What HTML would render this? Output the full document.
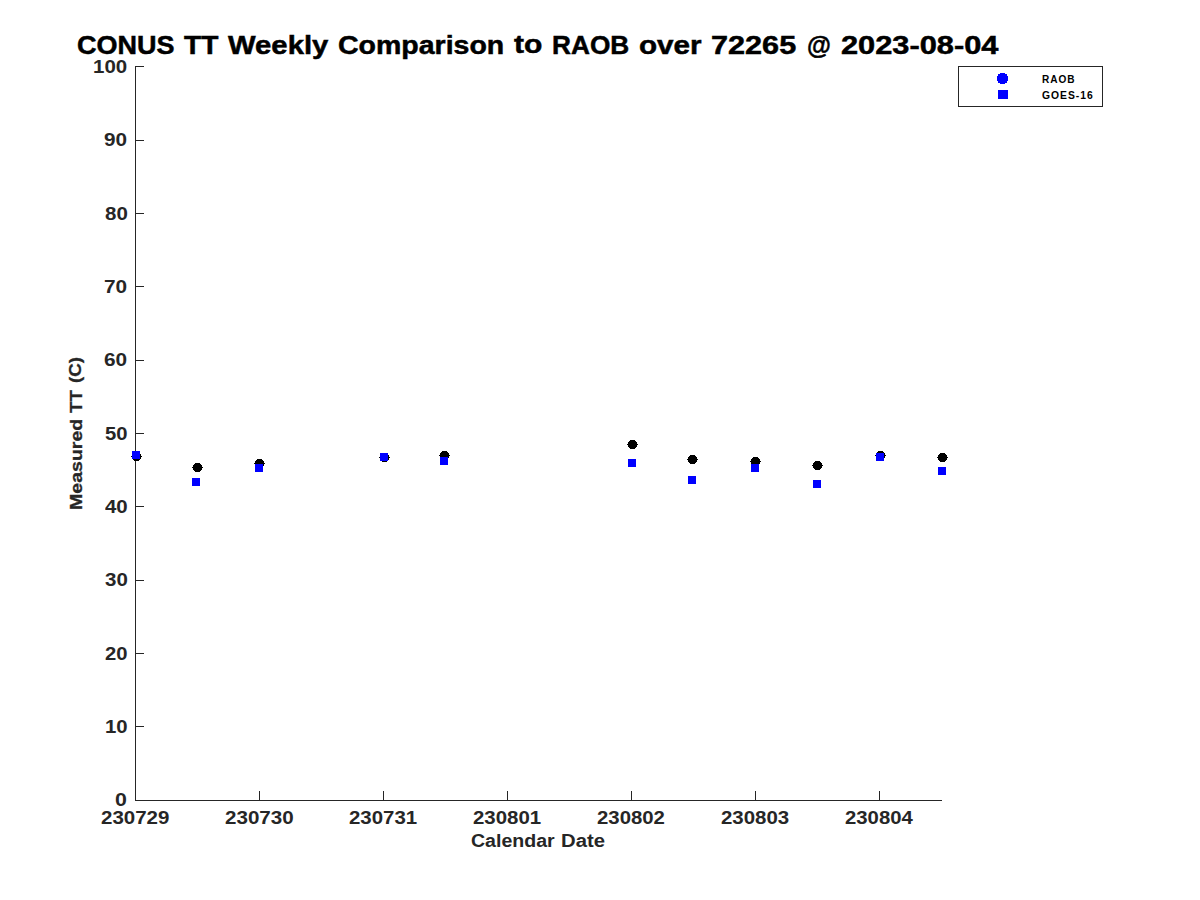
<!DOCTYPE html>
<html><head><meta charset="utf-8"><title>CONUS TT Weekly Comparison</title><style>
html,body{margin:0;padding:0;background:#fff;}
body{width:1200px;height:900px;position:relative;overflow:hidden;}
svg{position:absolute;left:0;top:0;}
.t{position:absolute;font-family:"Liberation Sans", sans-serif;font-weight:bold;white-space:nowrap;line-height:1;transform-origin:0 0;}
</style></head><body>
<svg width="1200" height="900" viewBox="0 0 1200 900" shape-rendering="crispEdges">
<rect x="135" y="66" width="1" height="735" fill="#262626"/>
<rect x="135" y="800" width="807" height="1" fill="#262626"/>
<rect x="135" y="800" width="9" height="1" fill="#262626"/>
<rect x="135" y="726" width="9" height="1" fill="#262626"/>
<rect x="135" y="653" width="9" height="1" fill="#262626"/>
<rect x="135" y="580" width="9" height="1" fill="#262626"/>
<rect x="135" y="506" width="9" height="1" fill="#262626"/>
<rect x="135" y="433" width="9" height="1" fill="#262626"/>
<rect x="135" y="360" width="9" height="1" fill="#262626"/>
<rect x="135" y="286" width="9" height="1" fill="#262626"/>
<rect x="135" y="213" width="9" height="1" fill="#262626"/>
<rect x="135" y="140" width="9" height="1" fill="#262626"/>
<rect x="135" y="66" width="9" height="1" fill="#262626"/>
<rect x="259" y="791" width="1" height="10" fill="#262626"/>
<rect x="383" y="791" width="1" height="10" fill="#262626"/>
<rect x="507" y="791" width="1" height="10" fill="#262626"/>
<rect x="631" y="791" width="1" height="10" fill="#262626"/>
<rect x="755" y="791" width="1" height="10" fill="#262626"/>
<rect x="879" y="791" width="1" height="10" fill="#262626"/>
<rect x="958" y="66" width="145" height="1" fill="#262626"/>
<rect x="958" y="106" width="145" height="1" fill="#262626"/>
<rect x="958" y="66" width="1" height="41" fill="#262626"/>
<rect x="1102" y="66" width="1" height="41" fill="#262626"/>
<path transform="translate(131,452)" d="M3,0H8V1H9V2H10V4H11V5H10V7H9V8H8V9H3V8H2V7H1V5H0V4H1V2H2V1H3Z" fill="#000"/>
<path transform="translate(192,463)" d="M3,0H8V1H9V2H10V4H11V5H10V7H9V8H8V9H3V8H2V7H1V5H0V4H1V2H2V1H3Z" fill="#000"/>
<path transform="translate(254,459)" d="M3,0H8V1H9V2H10V4H11V5H10V7H9V8H8V9H3V8H2V7H1V5H0V4H1V2H2V1H3Z" fill="#000"/>
<path transform="translate(379,453)" d="M3,0H8V1H9V2H10V4H11V5H10V7H9V8H8V9H3V8H2V7H1V5H0V4H1V2H2V1H3Z" fill="#000"/>
<path transform="translate(439,451)" d="M3,0H8V1H9V2H10V4H11V5H10V7H9V8H8V9H3V8H2V7H1V5H0V4H1V2H2V1H3Z" fill="#000"/>
<path transform="translate(627,440)" d="M3,0H8V1H9V2H10V4H11V5H10V7H9V8H8V9H3V8H2V7H1V5H0V4H1V2H2V1H3Z" fill="#000"/>
<path transform="translate(687,455)" d="M3,0H8V1H9V2H10V4H11V5H10V7H9V8H8V9H3V8H2V7H1V5H0V4H1V2H2V1H3Z" fill="#000"/>
<path transform="translate(750,457)" d="M3,0H8V1H9V2H10V4H11V5H10V7H9V8H8V9H3V8H2V7H1V5H0V4H1V2H2V1H3Z" fill="#000"/>
<path transform="translate(812,461)" d="M3,0H8V1H9V2H10V4H11V5H10V7H9V8H8V9H3V8H2V7H1V5H0V4H1V2H2V1H3Z" fill="#000"/>
<path transform="translate(875,451)" d="M3,0H8V1H9V2H10V4H11V5H10V7H9V8H8V9H3V8H2V7H1V5H0V4H1V2H2V1H3Z" fill="#000"/>
<path transform="translate(937,453)" d="M3,0H8V1H9V2H10V4H11V5H10V7H9V8H8V9H3V8H2V7H1V5H0V4H1V2H2V1H3Z" fill="#000"/>
<rect x="132" y="451" width="8" height="8" fill="#0000ff"/>
<rect x="192" y="478" width="8" height="8" fill="#0000ff"/>
<rect x="255" y="464" width="8" height="8" fill="#0000ff"/>
<rect x="380" y="453" width="8" height="8" fill="#0000ff"/>
<rect x="440" y="457" width="8" height="8" fill="#0000ff"/>
<rect x="628" y="459" width="8" height="8" fill="#0000ff"/>
<rect x="688" y="476" width="8" height="8" fill="#0000ff"/>
<rect x="751" y="464" width="8" height="8" fill="#0000ff"/>
<rect x="813" y="480" width="8" height="8" fill="#0000ff"/>
<rect x="876" y="453" width="8" height="8" fill="#0000ff"/>
<rect x="938" y="467" width="8" height="8" fill="#0000ff"/>
<path transform="translate(997,73)" d="M3,0H8V1H10V3H11V8H10V10H8V11H3V10H1V8H0V3H1V1H3Z" fill="#0000ff"/>
<rect x="998" y="90" width="10" height="9" fill="#0000ff"/>
</svg>
<div class="t" style="left:76.54px;top:31.55px;font-size:26.5px;color:#000;-webkit-text-stroke:0.5px #000;transform:scaleX(1.0186)">CONUS</div>
<div class="t" style="left:183.80px;top:31.55px;font-size:26.5px;color:#000;-webkit-text-stroke:0.5px #000;transform:scaleX(1.0620)">TT</div>
<div class="t" style="left:228.08px;top:31.55px;font-size:26.5px;color:#000;-webkit-text-stroke:0.5px #000;transform:scaleX(1.1041)">Weekly</div>
<div class="t" style="left:338.24px;top:31.55px;font-size:26.5px;color:#000;-webkit-text-stroke:0.5px #000;transform:scaleX(1.0754)">Comparison</div>
<div class="t" style="left:514.05px;top:31.42px;font-size:26.5px;color:#000;-webkit-text-stroke:0.5px #000;transform:scaleX(1.1340)">to</div>
<div class="t" style="left:552.31px;top:31.55px;font-size:26.5px;color:#000;-webkit-text-stroke:0.5px #000;transform:scaleX(0.9901)">RAOB</div>
<div class="t" style="left:639.46px;top:31.67px;font-size:26.5px;color:#000;-webkit-text-stroke:0.5px #000;transform:scaleX(1.1182)">over</div>
<div class="t" style="left:711.14px;top:31.55px;font-size:26.5px;color:#000;-webkit-text-stroke:0.5px #000;transform:scaleX(1.1557)">72265</div>
<div class="t" style="left:806.89px;top:32.17px;font-size:26.5px;color:#000;-webkit-text-stroke:0.5px #000;transform:scaleX(0.9247)">@</div>
<div class="t" style="left:841.18px;top:31.55px;font-size:26.5px;color:#000;-webkit-text-stroke:0.5px #000;transform:scaleX(1.1611)">2023-08-04</div>
<div class="t" style="left:115.49px;top:792.20px;font-size:17.6px;color:#262626;transform:scaleX(1.2121)">0</div>
<div class="t" style="left:104.75px;top:719.20px;font-size:17.6px;color:#262626;transform:scaleX(1.1549)">10</div>
<div class="t" style="left:104.82px;top:646.20px;font-size:17.6px;color:#262626;transform:scaleX(1.1507)">20</div>
<div class="t" style="left:104.57px;top:572.20px;font-size:17.6px;color:#262626;transform:scaleX(1.1644)">30</div>
<div class="t" style="left:104.61px;top:499.20px;font-size:17.6px;color:#262626;transform:scaleX(1.1622)">40</div>
<div class="t" style="left:104.82px;top:426.20px;font-size:17.6px;color:#262626;transform:scaleX(1.1507)">50</div>
<div class="t" style="left:104.26px;top:352.20px;font-size:17.6px;color:#262626;transform:scaleX(1.1806)">60</div>
<div class="t" style="left:104.26px;top:279.20px;font-size:17.6px;color:#262626;transform:scaleX(1.1806)">70</div>
<div class="t" style="left:104.57px;top:206.20px;font-size:17.6px;color:#262626;transform:scaleX(1.1644)">80</div>
<div class="t" style="left:104.31px;top:132.20px;font-size:17.6px;color:#262626;transform:scaleX(1.1781)">90</div>
<div class="t" style="left:93.24px;top:59.20px;font-size:17.6px;color:#262626;transform:scaleX(1.1636)">100</div>
<div class="t" style="left:100.72px;top:809.50px;font-size:17.6px;color:#262626;transform:scaleX(1.1652)">230729</div>
<div class="t" style="left:224.59px;top:809.50px;font-size:17.6px;color:#262626;transform:scaleX(1.1696)">230730</div>
<div class="t" style="left:348.72px;top:809.50px;font-size:17.6px;color:#262626;transform:scaleX(1.1602)">230731</div>
<div class="t" style="left:472.72px;top:809.50px;font-size:17.6px;color:#262626;transform:scaleX(1.1602)">230801</div>
<div class="t" style="left:596.97px;top:809.50px;font-size:17.6px;color:#262626;transform:scaleX(1.1565)">230802</div>
<div class="t" style="left:720.84px;top:809.50px;font-size:17.6px;color:#262626;transform:scaleX(1.1609)">230803</div>
<div class="t" style="left:844.60px;top:809.50px;font-size:17.6px;color:#262626;transform:scaleX(1.1545)">230804</div>
<div class="t" style="left:471.29px;top:832.73px;font-size:17.6px;color:#262626;transform:scaleX(1.1111)">Calendar</div>
<div class="t" style="left:560.69px;top:832.60px;font-size:17.6px;color:#262626;transform:scaleX(1.1517)">Date</div>
<div class="t" style="left:1042.02px;top:75.00px;font-size:10.4px;letter-spacing:1.0px;color:#000;transform:scale(0.9690,1.0000)">RAOB</div>
<div class="t" style="left:1042.00px;top:90.75px;font-size:10.4px;letter-spacing:1.0px;color:#000;transform:scale(0.9950,1.0000)">GOES-16</div>
<div style="position:absolute;left:60px;top:519px;width:200px;height:30px;transform-origin:0 0;transform:rotate(-90deg)"><div class="t" style="left:8.85px;top:8.00px;font-size:17.02px;color:#262626;-webkit-text-stroke:0.3px #262626;transform:scaleX(1.1484)">Measured</div><div class="t" style="left:106.25px;top:7.88px;font-size:17.02px;color:#262626;-webkit-text-stroke:0.3px #262626;transform:scaleX(1.1084)">TT</div><div class="t" style="left:135.67px;top:7.25px;font-size:17.02px;color:#262626;-webkit-text-stroke:0.3px #262626;transform:scaleX(1.1011)">(C)</div></div>
</body></html>
